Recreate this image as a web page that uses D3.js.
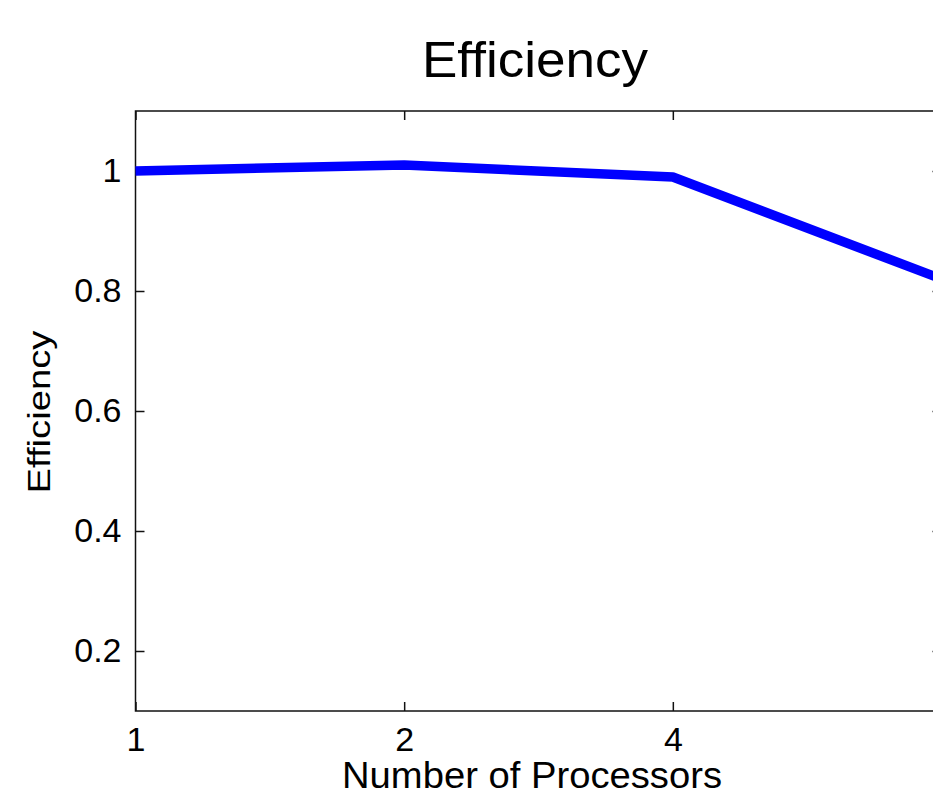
<!DOCTYPE html>
<html>
<head>
<meta charset="utf-8">
<script src="https://cdn.jsdelivr.net/npm/d3@7"></script>
<style>
  html, body { margin: 0; padding: 0; background: #fff; overflow: hidden; }
  svg { display: block; }
  text { font-family: "Liberation Sans", Arial, Helvetica, sans-serif; fill: #000; }
</style>
</head>
<body>
<svg id="chart" width="933" height="796"></svg>
<script>
// Data
const processors = [1, 2, 4, 8];
const efficiency = [1.0, 1.01, 0.99, 0.82];
const xTicks = [1, 2, 4, 8];
const yTicks = [0.2, 0.4, 0.6, 0.8, 1];
const titleText = "Efficiency";
const xLabelText = "Number of Processors";
const yLabelText = "Efficiency";

const svg = d3.select("#chart");
const plotLeft = 135.5, plotRight = 941.5, plotTop = 111, plotBottom = 711;

const x = d3.scaleLog().base(2).domain([1, 8]).range([plotLeft, plotRight]);
const y = d3.scaleLinear().domain([0.1, 1.1]).range([plotBottom, plotTop]);

const tickLen = 9;
const tickFont = 34;
const axisColor = "#111";
const fontStack = "'Liberation Sans', Arial, sans-serif";

// Axes box
svg.append("rect")
  .attr("x", plotLeft).attr("y", plotTop)
  .attr("width", plotRight - plotLeft).attr("height", plotBottom - plotTop)
  .attr("fill", "none").attr("stroke", axisColor).attr("stroke-width", 1.5);

// Bottom axis
const xAxisB = d3.axisBottom(x).tickValues(xTicks).tickSizeInner(-tickLen).tickSizeOuter(0)
  .tickPadding(16).tickFormat(d3.format("d"));
const gxb = svg.append("g").attr("transform", `translate(0,${plotBottom})`).call(xAxisB);
gxb.select(".domain").remove();
gxb.selectAll("line").attr("stroke", axisColor).attr("stroke-width", 1.5);
gxb.selectAll("text").attr("font-size", tickFont).style("font-family", fontStack).attr("fill", "#000");

// Top axis (ticks only)
const xAxisT = d3.axisTop(x).tickValues(xTicks).tickSizeInner(-tickLen).tickSizeOuter(0).tickFormat("");
const gxt = svg.append("g").attr("transform", `translate(0,${plotTop})`).call(xAxisT);
gxt.select(".domain").remove();
gxt.selectAll("line").attr("stroke", axisColor).attr("stroke-width", 1.5);

// Left axis
const yAxisL = d3.axisLeft(y).tickValues(yTicks).tickSizeInner(-tickLen).tickSizeOuter(0)
  .tickPadding(14).tickFormat(d => d === 1 ? "1" : d3.format(".1f")(d));
const gyl = svg.append("g").attr("transform", `translate(${plotLeft},0)`).call(yAxisL);
gyl.select(".domain").remove();
gyl.selectAll("line").attr("stroke", axisColor).attr("stroke-width", 1.5);
gyl.selectAll("text").attr("font-size", tickFont).style("font-family", fontStack).attr("fill", "#000");

// Right axis (ticks only)
const yAxisR = d3.axisRight(y).tickValues(yTicks).tickSizeInner(-tickLen).tickSizeOuter(0).tickFormat("");
const gyr = svg.append("g").attr("transform", `translate(${plotRight},0)`).call(yAxisR);
gyr.select(".domain").remove();
gyr.selectAll("line").attr("stroke", axisColor).attr("stroke-width", 1.5);

// Line
const line = d3.line().x((d, i) => x(processors[i])).y(d => y(d));
svg.append("path")
  .datum(efficiency)
  .attr("d", line)
  .attr("fill", "none")
  .attr("stroke", "#0000ff")
  .attr("stroke-width", 9.5)
  .attr("stroke-linejoin", "round");

// Title
svg.append("text")
  .attr("x", 535).attr("y", 77)
  .attr("text-anchor", "middle")
  .attr("font-size", 50)
  .attr("textLength", 226)
  .attr("lengthAdjust", "spacingAndGlyphs")
  .text(titleText);

// X label
svg.append("text")
  .attr("x", 532).attr("y", 788)
  .attr("text-anchor", "middle")
  .attr("font-size", 37)
  .attr("textLength", 380)
  .attr("lengthAdjust", "spacingAndGlyphs")
  .text(xLabelText);

// Y label
svg.append("text")
  .attr("transform", `translate(49.5,412) rotate(-90)`)
  .attr("text-anchor", "middle")
  .attr("font-size", 31.5)
  .attr("textLength", 163)
  .attr("lengthAdjust", "spacingAndGlyphs")
  .text(yLabelText);
</script>
</body>
</html>
